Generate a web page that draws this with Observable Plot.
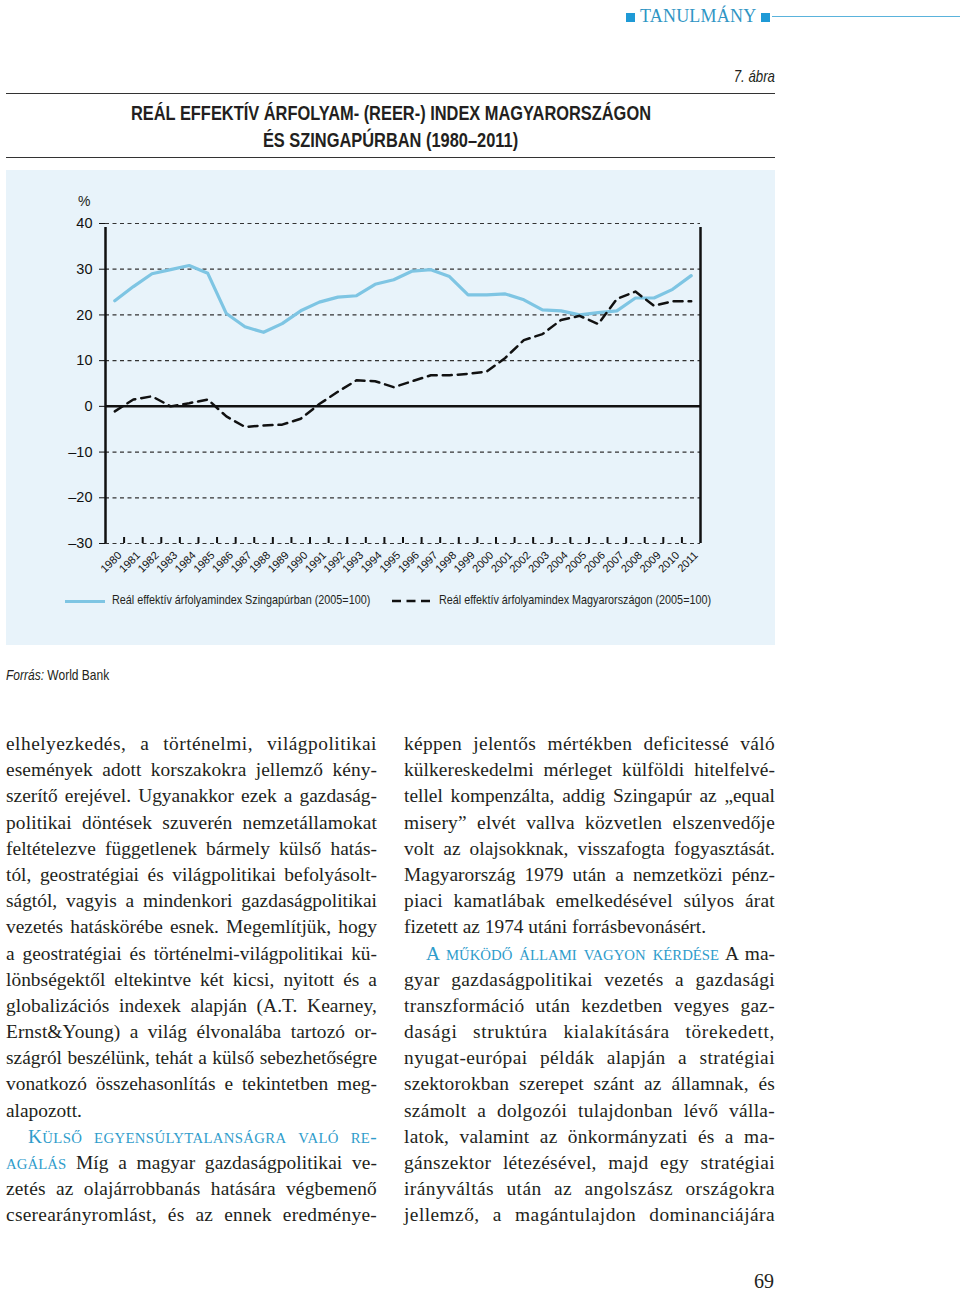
<!DOCTYPE html>
<html><head><meta charset="utf-8">
<script src="https://cdn.jsdelivr.net/npm/d3@7"></script>
<script src="https://cdn.jsdelivr.net/npm/@observablehq/plot@0.6"></script>
<style>
html,body{margin:0;padding:0;background:#fff;}
#page{position:relative;width:960px;height:1293px;overflow:hidden;color:#231f20;}
.narrow{font-family:"Liberation Sans",Arial,sans-serif;}
.cond{display:inline-block;white-space:nowrap;transform-origin:left center;}
.abs{position:absolute;}
.rule{position:absolute;left:6px;width:769px;height:0;border-top:1.3px solid #333;}
#panel{position:absolute;left:6px;top:170px;width:769px;height:475px;background:#e8f3fa;}
.body{position:absolute;font-family:"Liberation Serif","Times New Roman",serif;font-size:19.4px;line-height:26.2px;}
.ln{white-space:nowrap;height:26.2px;}
.ln span.c{display:inline-block;}
.sc{color:#2f9ccb;}
.sc .s{font-size:0.76em;}
</style></head>
<body><div id="page">
<div class="abs" style="left:626px;top:6px;font-family:'Liberation Serif',serif;font-size:18px;color:#2f95c4;letter-spacing:0.2px;">
<span style="display:inline-block;width:9px;height:9px;background:#1f9ad6;margin-right:5px;"></span>TANULMÁNY<span style="display:inline-block;width:9px;height:9px;background:#1f9ad6;margin-left:5px;"></span></div>
<div class="abs" style="left:772px;top:16px;width:188px;height:0;border-top:1.5px solid #5ab3dc;"></div>
<div class="abs narrow" style="left:700px;width:75px;text-align:right;top:67px;font-size:17px;font-style:italic;"><span class="cond" style="transform:scaleX(0.78);transform-origin:right center;">7. ábra</span></div>
<div class="rule" style="top:93px"></div>
<div class="abs narrow" style="left:6px;width:769px;top:99px;text-align:center;font-weight:bold;font-size:20.5px;line-height:27px;">
 <div><span class="cond" style="transform:scaleX(0.80);transform-origin:center;">REÁL EFFEKTÍV ÁRFOLYAM- (REER-) INDEX MAGYARORSZÁGON</span></div>
 <div><span class="cond" style="transform:scaleX(0.80);transform-origin:center;">ÉS SZINGAPÚRBAN (1980–2011)</span></div>
</div>
<div class="rule" style="top:157px"></div>
<div id="panel">
  <div class="abs" style="left:72px;top:23px;font-family:Arial,'Liberation Sans',sans-serif;font-size:14px;">%</div>
  <div id="chart" class="abs" style="left:0;top:0;"></div>
  <div id="legend" class="abs narrow" style="left:0;top:422px;width:769px;height:20px;font-size:13.5px;"></div>
</div>
<div class="abs narrow" style="left:6px;top:666px;font-size:15px;"><span class="cond" style="transform:scaleX(0.8);"><i>Forrás:</i> World Bank</span></div>
<div id="colL" class="body" style="left:6px;top:731px;width:371px;"></div>
<div id="colR" class="body" style="left:404px;top:731px;width:371px;"></div>
<div class="abs" style="left:754px;top:1270px;font-family:'Liberation Serif',serif;font-size:20px;">69</div>
</div>
<script>
// ---- data ----
const years = [1980,1981,1982,1983,1984,1985,1986,1987,1988,1989,1990,1991,1992,1993,1994,1995,1996,1997,1998,1999,2000,2001,2002,2003,2004,2005,2006,2007,2008,2009,2010,2011];
const singapore = [23.1,26.2,29.0,29.9,30.8,29.1,20.3,17.4,16.2,18.1,20.9,22.8,23.9,24.2,26.7,27.7,29.6,29.9,28.4,24.4,24.4,24.6,23.3,21.1,20.9,20.0,20.5,20.9,23.7,23.7,25.6,28.6];
const hungary = [-1.1,1.5,2.2,0.0,0.7,1.5,-2.2,-4.5,-4.2,-4.0,-2.7,0.5,3.2,5.7,5.5,4.2,5.5,6.8,6.8,7.1,7.6,10.6,14.5,15.8,18.9,19.8,18.0,23.5,25.1,22.0,23.0,23.0];
const yTicks = [-30,-20,-10,0,10,20,30,40];
const seriesNames = ["Reál effektív árfolyamindex Szingapúrban (2005=100)","Reál effektív árfolyamindex Magyarországon (2005=100)"];

const sgData = years.map((y,i)=>({year:y, value:singapore[i]}));
const huData = years.map((y,i)=>({year:y, value:hungary[i]}));
const xMin = years[0]-0.5, xMax = years[years.length-1]+0.5;
const bounds = years.slice(0,-1).map(y=>y+0.5);
const yMin = yTicks[0], yMax = yTicks[yTicks.length-1];
const tickLen = 6*(yMax-yMin)/320;
const fmt = d => d<0 ? "–"+Math.abs(d) : String(d);

const chart = Plot.plot({
  width:769, height:413,
  marginLeft:99, marginRight:75, marginTop:53, marginBottom:40,
  style:{background:"transparent", fontSize:"14.5px", fontFamily:"Arial,'Liberation Sans',sans-serif", color:"#111"},
  x:{domain:[xMin,xMax], axis:null},
  y:{domain:[yMin,yMax], ticks:yTicks, tickSize:6, tickPadding:7, tickFormat:fmt, label:null},
  marks:[
    Plot.ruleY(yTicks.filter(d=>d!==0), {x1:xMin, x2:xMax, stroke:"#333", strokeWidth:1.2, strokeDasharray:"4,3.5"}),
    Plot.ruleX(bounds, {y1:yMin, y2:yMin+tickLen, stroke:"#111", strokeWidth:2}),
    Plot.ruleY([0], {x1:xMin, x2:xMax, stroke:"#111", strokeWidth:2.5}),
    Plot.ruleX([xMin, xMax], {y1:yMin, y2:yMax, stroke:"#111", strokeWidth:2.5, insetBottom:-4}),
    Plot.line(sgData, {x:"year", y:"value", stroke:"#7ec5e3", strokeWidth:3.2}),
    Plot.line(huData, {x:"year", y:"value", stroke:"#111", strokeWidth:2.5, strokeDasharray:"9,6"}),
    Plot.text(years, {x:d=>d, y:yMin, text:d=>String(d), rotate:-45, textAnchor:"end", dx:5, dy:10, fontSize:11, fontFamily:"Arial,'Liberation Sans',sans-serif", fill:"#111"})
  ]
});
document.getElementById("chart").appendChild(chart);

// legend
const lg = document.getElementById("legend");
lg.innerHTML =
 `<span class="abs" style="left:59px;top:8px;width:40px;height:0;border-top:3.5px solid #7ec5e3;"></span>
  <span class="abs cond" style="left:106px;top:0;transform:scaleX(0.8);">${seriesNames[0]}</span>
  <svg class="abs" style="left:386px;top:6px" width="40" height="6"><line x1="0" y1="3" x2="40" y2="3" stroke="#111" stroke-width="2.5" stroke-dasharray="9,5.5"/></svg>
  <span class="abs cond" style="left:433px;top:0;transform:scaleX(0.8);">${seriesNames[1]}</span>`;

// small caps helper
function sc(t){
  return "<span class='sc'>" + [...t].map(ch=>{
    if(ch===" ") return " ";
    if(ch!==ch.toUpperCase()) return "<span class='s'>"+ch.toUpperCase()+"</span>";
    return ch;
  }).join("") + "</span>";
}
const leftLines = [
 ["elhelyezkedés, a történelmi, világpolitikai","j"],
 ["események adott korszakokra jellemző kény-","j"],
 ["szerítő erejével. Ugyanakkor ezek a gazdaság-","j"],
 ["politikai döntések szuverén nemzetállamokat","j"],
 ["feltételezve függetlenek bármely külső hatás-","j"],
 ["tól, geostratégiai és világpolitikai befolyásolt-","j"],
 ["ságtól, vagyis a mindenkori gazdaságpolitikai","j"],
 ["vezetés hatáskörébe esnek. Megemlítjük, hogy","j"],
 ["a geostratégiai és történelmi-világpolitikai kü-","j"],
 ["lönbségektől eltekintve két kicsi, nyitott és a","j"],
 ["globalizációs indexek alapján (A.T. Kearney,","j"],
 ["Ernst&amp;Young) a világ élvonalába tartozó or-","j"],
 ["szágról beszélünk, tehát a külső sebezhetőségre","j"],
 ["vonatkozó összehasonlítás e tekintetben meg-","j"],
 ["alapozott.","l"],
 [sc("Külső egyensúlytalanságra való re-"),"ji"],
 [sc("agálás")+" Míg a magyar gazdaságpolitikai ve-","j"],
 ["zetés az olajárrobbanás hatására végbemenő","j"],
 ["cserearányromlást, és az ennek eredménye-","j"]
];
const rightLines = [
 ["képpen jelentős mértékben deficitessé váló","j"],
 ["külkereskedelmi mérleget külföldi hitelfelvé-","j"],
 ["tellel kompenzálta, addig Szingapúr az „equal","j"],
 ["misery” elvét vallva közvetlen elszenvedője","j"],
 ["volt az olajsokknak, visszafogta fogyasztását.","j"],
 ["Magyarország 1979 után a nemzetközi pénz-","j"],
 ["piaci kamatlábak emelkedésével súlyos árat","j"],
 ["fizetett az 1974 utáni forrásbevonásért.","l"],
 [sc("A működő állami vagyon kérdése")+" A ma-","ji"],
 ["gyar gazdaságpolitikai vezetés a gazdasági","j"],
 ["transzformáció után kezdetben vegyes gaz-","j"],
 ["dasági struktúra kialakítására törekedett,","j"],
 ["nyugat-európai példák alapján a stratégiai","j"],
 ["szektorokban szerepet szánt az államnak, és","j"],
 ["számolt a dolgozói tulajdonban lévő válla-","j"],
 ["latok, valamint az önkormányzati és a ma-","j"],
 ["gánszektor létezésével, majd egy stratégiai","j"],
 ["irányváltás után az angolszász országokra","j"],
 ["jellemző, a magántulajdon dominanciájára","j"]
];
function fill(id, lines){
  const col = document.getElementById(id);
  const W = 371;
  lines.forEach(([html,mode])=>{
    const ln = document.createElement("div"); ln.className="ln";
    const indent = mode.includes("i") ? 22 : 0;
    ln.style.paddingLeft = indent+"px";
    const c = document.createElement("span"); c.className="c"; c.innerHTML = html;
    ln.appendChild(c); col.appendChild(ln);
    if(mode.startsWith("j")){
      const target = W - indent;
      const nat = c.getBoundingClientRect().width;
      const spaces = (c.textContent.match(/ /g)||[]).length;
      let ws = spaces>0 ? (target-nat)/spaces : 0;
      // keep word gaps from growing too much: spread part of it to letters
      const n = c.textContent.length;
      if(ws > 4){
        const extra = (ws-4)*spaces;
        c.style.letterSpacing = (extra*0.6/n)+"px";
      }
      const nat2 = c.getBoundingClientRect().width;
      if(spaces>0) c.style.wordSpacing = ((target-nat2)/spaces)+"px";
      const w2 = c.getBoundingClientRect().width;
      if(Math.abs(w2-target)>0.5){
        const cur = parseFloat(c.style.letterSpacing)||0;
        c.style.letterSpacing = (cur + (target-w2)/n)+"px";
      }
    }
  });
}
fill("colL", leftLines);
fill("colR", rightLines);
</script>
</body></html>
